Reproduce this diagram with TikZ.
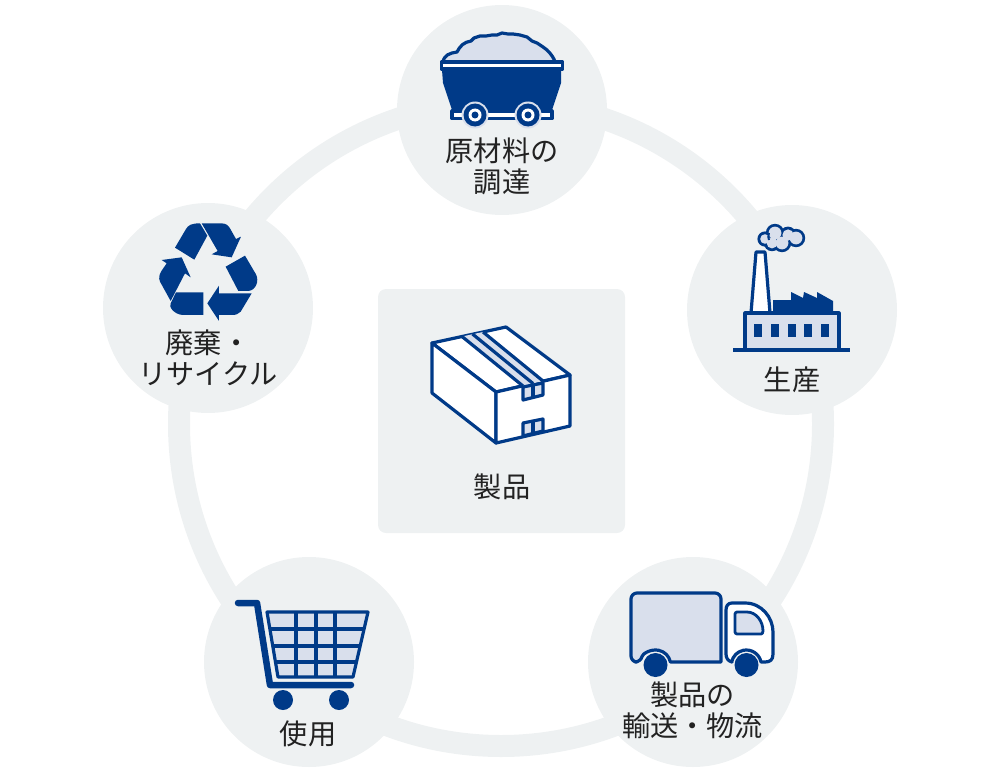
\documentclass[tikz,border=0pt]{standalone}
\usepackage{fontspec}
\setmainfont{Noto Sans CJK JP}
\usepackage{tikz}
\usetikzlibrary{arrows.meta,calc,positioning}
\definecolor{SoftGray}{HTML}{EEF1F2}
\definecolor{DeepBlue}{HTML}{003A88}
\definecolor{PaleBlue}{HTML}{D9DFEC}
\definecolor{InkGray}{HTML}{222222}
\tikzset{
  stage/.style={circle,fill=SoftGray,minimum size=210pt,inner sep=0pt},
  caption/.style={text=InkGray,align=center,inner sep=0pt,font=\fontsize{28.2}{31}\selectfont},
  line/.style={draw=DeepBlue,line width=3.2pt,line join=round},
  solid/.style={fill=DeepBlue},
  wheel/.style={circle,fill=DeepBlue,minimum size=24pt,inner sep=0pt},
}
\begin{document}
\begin{tikzpicture}[x=1pt,y=-1pt]
\useasboundingbox (0,0) rectangle (1000,773);
% ring and stages
\node[circle,draw=SoftGray,line width=22pt,minimum size=644pt,inner sep=0pt] (ring) at (501,424) {};
\node[stage] (source) at (502,110) {};
\node[stage] (factory) at (792,310) {};
\node[stage] (delivery) at (693,662) {};
\node[stage] (shop) at (309,662) {};
\node[stage] (recycle) at (208,308) {};
\fill[SoftGray,rounded corners=8pt] (378,289) rectangle (625,533);
% mine cart
\draw[line,fill=PaleBlue] (443,62) .. controls (444,55) and (450,53) .. (457,52) .. controls (460,46) and (464,42) .. (471,41)
  -- (474,38) -- (480,36) -- (486,36) -- (492,35) -- (497,35) -- (502,33) -- (508,34) -- (513,34) -- (520,35) -- (527,37)
  -- (532,41) -- (537,43) -- (543,47) -- (547,50) .. controls (551,54) and (554,58) .. (555,62) -- cycle;
\fill[DeepBlue] (442,70) -- (443,83) -- (452,110) -- (552,110) -- (561,83) -- (561,70) -- cycle;
\draw[line,fill=white] (441.5,62) rectangle (562.5,69);
\draw[line,fill=white] (452,111) rectangle (552,118.5);
\foreach \cx/\nm in {475/wa,528/wb}{
  \node[circle,fill=PaleBlue,minimum size=27pt,inner sep=0pt] (\nm) at (\cx,115) {};
  \node[circle,fill=DeepBlue,minimum size=23pt,inner sep=0pt] at (\cx,115) {};
  \node[circle,fill=white,minimum size=13pt,inner sep=0pt] at (\cx,115) {};
  \node[circle,fill=DeepBlue,minimum size=7pt,inner sep=0pt] at (\cx,115) {};
}
\node[caption] (sourcetext) at (502,166) {原材料の\\調達};
% factory
\draw[line,fill=white] (751,313) -- (756,252) -- (765,252) -- (770,313);
\fill[solid] (773,313) -- (773,300) -- (791,300) -- (791,292) -- (803,298) -- (804,292) -- (817,298) -- (817,292) -- (833,301) -- (833,313) -- cycle;
\draw[line,fill=PaleBlue] (745,313) rectangle (839,350);
\draw[line] (733,350) -- (850,350);
\foreach \wx in {754,771,788,804,821}
  \fill[solid] (\wx,324) rectangle ++(8,13);
\foreach \px/\py/\pr in {765/239/7.6,775/233/9.2,788/235/8.4,796/238/9.2,782/243/9.2,772/243/8.2}
  \fill[DeepBlue] (\px,\py) circle[radius=\pr];
\foreach \px/\py/\pr in {765/239/4.8,775/233/6.4,788/235/5.6,796/238/6.4,782/243/6.4,772/243/5.4}
  \fill[PaleBlue] (\px,\py) circle[radius=\pr];
\draw[DeepBlue,line width=2pt] (769,233) .. controls (768,236) and (768,238) .. (769,240);
\node[caption] (factorytext) at (792,380) {生産};
% truck
\draw[line,fill=PaleBlue] (690,662) [sharp corners] -- (721,662) [rounded corners=6pt] -- (721,593) -- (631,593) -- (631,662) -- (641,662)
  [sharp corners] arc[start angle=191.5,end angle=348.5,radius=15] -- cycle;
\draw[line,fill=white] (732,603) -- (745,603) .. controls (762,603) and (773,618) .. (773,632) -- (773,654)
  .. controls (773,660) and (770,662) .. (765,662) -- (761,662) arc[start angle=348.5,end angle=191.5,radius=15]
  -- (732,662) .. controls (728,661) and (726,658) .. (726,654) -- (726,610) .. controls (726,606) and (728,603) .. (732,603) -- cycle;
\draw[line,fill=PaleBlue,line width=2.8pt] (737,612) -- (747,612) .. controls (756,612) and (763,621) .. (763,631) .. controls (763,633) and (762,634) .. (761,634)
  -- (737,634) .. controls (736,634) and (735,633) .. (735,632) -- (735,614) .. controls (735,613) and (736,612) .. (737,612) -- cycle;
\node[wheel] (rear) at (655.5,665) {};
\node[wheel] (front) at (746.5,665) {};
\node[caption] (deliverytext) at (692.5,710.5) {製品の\\輸送・物流};
% shopping cart
\draw[line,fill=PaleBlue] (267,612) -- (368,612) -- (353,677) -- (278,677) -- cycle;
\draw[line] (270,629) -- (364,629);
\draw[line] (273,646) -- (360,646);
\draw[line] (275.5,662) -- (356.5,662);
\foreach \gx in {296,316,335}
  \draw[line] (\gx,612) -- (\gx,677);
\draw[DeepBlue,line width=6.5pt,line cap=round,line join=round] (238,603) -- (257,603) -- (270,685) -- (351,685);
\node[circle,fill=DeepBlue,minimum size=20pt,inner sep=0pt] (left) at (283,700) {};
\node[circle,fill=DeepBlue,minimum size=20pt,inner sep=0pt] (right) at (339,700) {};
\node[caption] (shoptext) at (308,734) {使用};
% recycling mark
\begin{scope}[shift={(150,215)},x=.3333pt,y=-.3333pt]
\fill[solid] (75,98) -- (108,42) .. controls (115,30) and (125,25) .. (150,25) -- (172,62) -- (133,134) -- cycle;
\fill[solid] (155,25) -- (215,25) .. controls (228,26) and (234,30) .. (240,40) -- (258,72) -- (273,65) -- (245,127) -- (185,118) -- (203,108) -- cycle;
\fill[solid] (227,155) -- (285,122) -- (318,178) .. controls (328,198) and (318,226) .. (295,228) -- (265,228) -- cycle;
\fill[solid] (305,235) -- (272,290) .. controls (266,297) and (258,300) .. (245,300) -- (207,300) -- (207,318) -- (172,265) -- (207,212) -- (207,235) -- cycle;
\fill[solid] (78,232) -- (160,232) -- (160,300) -- (98,300) .. controls (72,298) and (55,275) .. (62,265) -- cycle;
\fill[solid] (62,258) -- (30,200) .. controls (25,188) and (28,178) .. (35,167) -- (50,145) -- (35,135) -- (95,127) -- (122,187) -- (105,175) -- cycle;
\end{scope}
\node[caption] (recycletext) at (208,358) {廃棄・\\リサイクル};
% product box
\draw[line,fill=white] (432,343) -- (506,327) -- (570,375) -- (496,392) -- cycle;
\draw[line,fill=white] (432,343) -- (496,392) -- (496,443) -- (432,393) -- cycle;
\draw[line,fill=white] (496,392) -- (570,375) -- (570,426) -- (496,443) -- cycle;
\fill[PaleBlue] (462,336.5) -- (483,332) -- (543,381) -- (523,386) -- cycle;
\draw[line] (462,336.5) -- (523,386);
\draw[line] (472.5,334) -- (533,383.5);
\draw[line] (483,332) -- (543,381);
\foreach \ty in {387,423}{
  \draw[line,fill=PaleBlue] (523,\ty) -- (543,\ty-4) -- (543,\ty+8) -- (523,\ty+13) -- cycle;
  \draw[line] (533,\ty-2) -- (533,\ty+10);
}
\node[caption] (boxtext) at (502,487) {製品};
\end{tikzpicture}
\end{document}
